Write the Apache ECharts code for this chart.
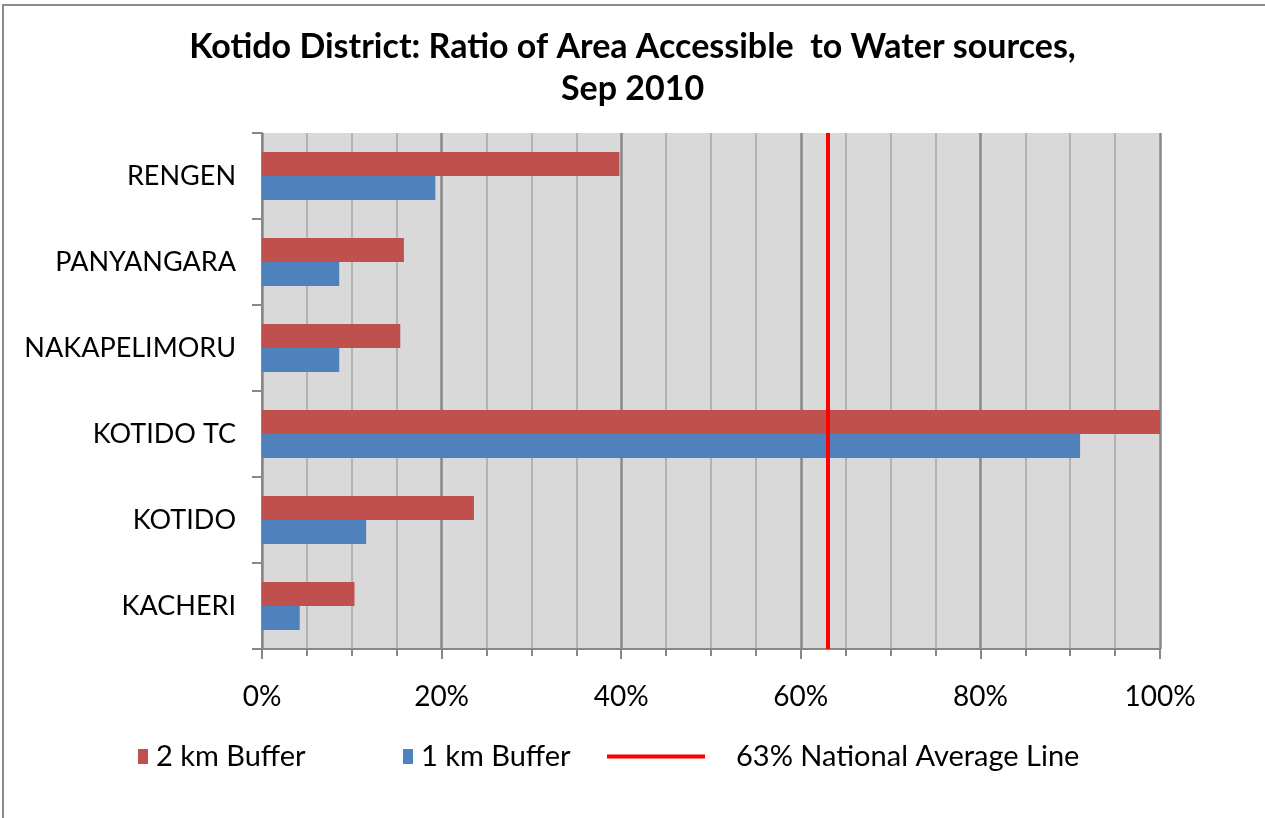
<!DOCTYPE html>
<html>
<head>
<meta charset="utf-8">
<script src="https://cdn.jsdelivr.net/npm/echarts@6/dist/echarts.min.js"></script>
<style>
html,body{margin:0;padding:0;background:#fff;}
#chart{width:1265px;height:818px;}
</style>
</head>
<body>
<div id="chart"></div>
<script>
const categories = ['KACHERI', 'KOTIDO', 'KOTIDO TC', 'NAKAPELIMORU', 'PANYANGARA', 'RENGEN'];
const buffer2km = [10.3, 23.6, 100, 15.4, 15.8, 39.8];
const buffer1km = [4.2, 11.6, 91.1, 8.6, 8.6, 19.3];
const nationalAverage = 63;
const seriesNames = ['2 km Buffer', '1 km Buffer', '63% National Average Line'];

const FONT = 'Lato';
const legendText = { fontFamily: FONT, fontSize: 29, color: '#000' };
const chart = echarts.init(document.getElementById('chart'));
chart.setOption({
  animation: false,
  backgroundColor: '#ffffff',
  textStyle: { fontFamily: FONT },
  graphic: [{
    type: 'rect', silent: true,
    shape: { x: 3, y: 5, width: 1400, height: 1000 },
    style: { fill: 'none', stroke: '#8c8c8c', lineWidth: 2 }
  }],
  title: {
    text: 'Kotido District: Ratio of Area Accessible  to Water sources,\nSep 2010',
    left: 'center', top: 21,
    textStyle: { fontFamily: FONT, fontWeight: 'bold', fontSize: 34, lineHeight: 42, color: '#000' }
  },
  grid: { left: 262, top: 133, width: 898, height: 516, backgroundColor: '#d9d9d9', show: true, borderWidth: 0 },
  legend: [{
    data: [seriesNames[0]], left: 133, top: 737, icon: 'rect', itemWidth: 10, itemHeight: 15,
    textStyle: Object.assign({ padding: [0, 0, 0, 3] }, legendText)
  }, {
    data: [seriesNames[1]], left: 398, top: 737, icon: 'rect', itemWidth: 10, itemHeight: 15,
    textStyle: Object.assign({ padding: [0, 0, 0, 3] }, legendText)
  }, {
    data: [{ name: seriesNames[2], icon: 'rect' }],
    left: 602, top: 737, itemWidth: 98, itemHeight: 4,
    textStyle: Object.assign({ padding: [0, 0, 0, 26] }, legendText)
  }],
  xAxis: {
    type: 'value', min: 0, max: 100, interval: 20,
    axisLine: { show: true, lineStyle: { color: '#888', width: 2 } },
    axisTick: { show: true, length: 10, lineStyle: { color: '#888', width: 2 } },
    minorTick: { show: true, splitNumber: 4, length: 7, lineStyle: { color: '#888', width: 2 } },
    splitLine: { show: true, lineStyle: { color: '#888', width: 2.5 } },
    minorSplitLine: { show: true, lineStyle: { color: '#b3b3b3', width: 2 } },
    axisLabel: { formatter: '{value}%', fontSize: 28, color: '#000', margin: 34, fontFamily: FONT }
  },
  yAxis: {
    type: 'category', data: categories,
    axisLine: { show: true, lineStyle: { color: '#888', width: 2 } },
    axisTick: { show: true, length: 10, lineStyle: { color: '#888', width: 2 } },
    axisLabel: { fontSize: 27, color: '#000', margin: 26, fontFamily: FONT }
  },
  series: [{
    name: seriesNames[0], type: 'bar', data: buffer2km, barWidth: 24, barGap: '0%',
    itemStyle: { color: '#c0504d' }, z: 2
  }, {
    name: seriesNames[1], type: 'bar', data: buffer1km, barWidth: 24, barGap: '0%',
    itemStyle: { color: '#4f81bd' },
    markLine: {
      silent: true, symbol: 'none', label: { show: false },
      lineStyle: { color: '#ff0000', width: 4, type: 'solid' },
      data: [{ xAxis: nationalAverage }]
    },
    z: 2
  }, {
    name: seriesNames[2], type: 'line', data: [], symbol: 'none',
    itemStyle: { color: '#ff0000' }, lineStyle: { color: '#ff0000', width: 4 }
  }]
});
</script>
</body>
</html>
